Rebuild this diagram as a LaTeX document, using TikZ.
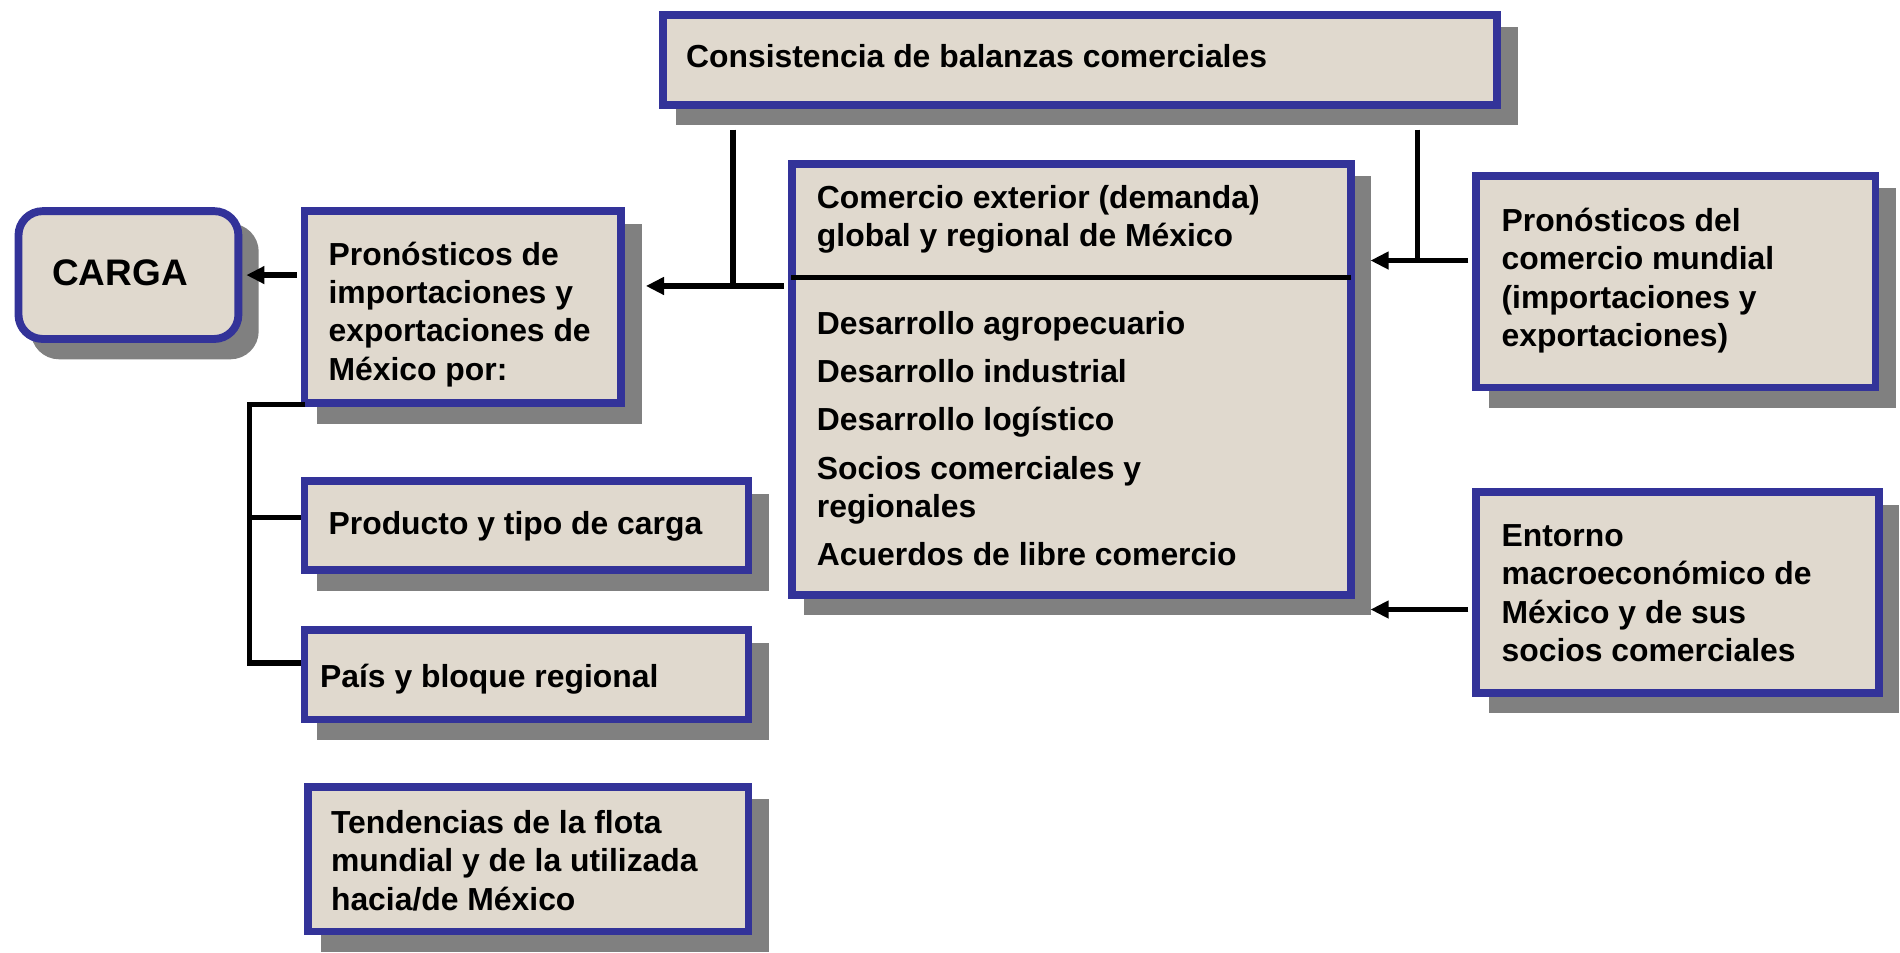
\documentclass[tikz,border=0pt]{standalone}
\usepackage{fontspec}
\setmainfont{Liberation Sans}
\usetikzlibrary{arrows.meta,shadows,calc}
\definecolor{boxfill}{HTML}{E0D9CE}
\definecolor{boxline}{HTML}{333399}
\definecolor{shgray}{HTML}{808080}
\newcommand\mlines[1]{\begin{tabular}[t]{@{}l@{}}#1\end{tabular}}
\begin{document}
\begin{tikzpicture}[x=1pt,y=-1pt,
  box/.style={draw=boxline, line width=6.5pt, fill=boxfill, inner sep=0pt,
    drop shadow={shadow xshift=13.5pt, shadow yshift=-13.5pt, opacity=1, fill=shgray, draw=shgray, line width=6.5pt}},
  txt/.style={inner sep=0pt, anchor=base west, font=\fontsize{26.3}{31.6}\selectfont\bfseries},
  conn/.style={line width=4.5pt, draw=black},
  arr/.style={conn, -{Triangle[length=15pt,width=14pt]}}
]
\fill[white] (0,0) rectangle (1568,785.7);
\useasboundingbox (0,0) rectangle (1568,785.7);

% boxes
\node[box, rounded corners=20pt, minimum width=181.5pt, minimum height=105.5pt] (carga) at (106,227) {};
\node[box, minimum width=261.5pt, minimum height=158.5pt] (pron) at (382,253.5) {};
\node[box, minimum width=688.5pt, minimum height=74.5pt] (cons) at (891.5,49.5) {};
\node[box, minimum width=461.5pt, minimum height=355.5pt] (com) at (884,313) {};
\node[box, minimum width=329.5pt, minimum height=174.5pt] (mund) at (1383,232.5) {};
\node[box, minimum width=332.5pt, minimum height=165.5pt] (ent) at (1384.5,489) {};
\node[box, minimum width=366.5pt, minimum height=73.5pt] (prod) at (434.5,434) {};
\node[box, minimum width=366.5pt, minimum height=73.5pt] (pais) at (434.5,557) {};
\node[box, minimum width=363.5pt, minimum height=119.5pt] (tend) at (436,709) {};

% junction coordinates
\coordinate (j1) at (605,236);
\coordinate (j2) at (1170,215);
\coordinate (j3) at (1170,503);
\coordinate (dv) at (884,229);
\coordinate (t0) at (206,334);
\coordinate (t1) at (206,427);
\coordinate (t2) at (206,547);

% connectors
\draw[arr, shorten <=3.25pt] (pron.west |- carga.east) -- ($(carga.east)+(3.25,0)$);
\draw[arr, shorten <=3.25pt] (com.west |- j1) -- ($(pron.east |- j1)+(17,0)$);
\draw[conn] ($(cons.south -| j1)+(0,17)$) -- (j1);
\draw[arr, shorten <=3.25pt] (mund.west |- j2) -- ($(com.east |- j2)+(13,0)$);
\draw[conn] ($(cons.south -| j2)+(0,17)$) -- (j2);
\draw[arr, shorten <=3.25pt] (ent.west |- j3) -- ($(com.east |- j3)+(13,0)$);
\draw[conn] ($(com.west |- dv)+(3,0)$) -- ($(com.east |- dv)+(-3,0)$);
\draw[conn] ($(t0 -| pron.south west)+(4,0)$) -- (t0) -- (t2) -- (pais.west |- t2);
\draw[conn] (t1) -- (prod.west |- t1);

% texts
\node[txt, anchor=base] (cargat) at (99,236) {\fontsize{30.5}{36}\selectfont CARGA};
\node[txt] (pront) at (271,219) {\mlines{Pronósticos de\\importaciones y\\exportaciones de\\México por:}};
\node[txt] (const) at (566,56) {Consistencia de balanzas comerciales};
\node[txt] (comt) at (674,172) {\mlines{Comercio exterior (demanda)\\global y regional de México}};
\node[txt] (comi) at (674,276) {\mlines{Desarrollo agropecuario\\[8.2pt]Desarrollo industrial\\[8.2pt]Desarrollo logístico\\[8.2pt]Socios comerciales y\\regionales\\[8.2pt]Acuerdos de libre comercio}};
\node[txt] (mundt) at (1239,191) {\mlines{Pronósticos del\\comercio mundial\\(importaciones y\\exportaciones)}};
\node[txt] (entt) at (1239,451) {\mlines{Entorno\\macroeconómico de\\México y de sus\\socios comerciales}};
\node[txt] (prodt) at (271,441) {Producto y tipo de carga};
\node[txt] (paist) at (264,567) {País y bloque regional};
\node[txt] (tendt) at (273,688) {\mlines{Tendencias de la flota\\mundial y de la utilizada\\hacia/de México}};
\end{tikzpicture}
\end{document}
